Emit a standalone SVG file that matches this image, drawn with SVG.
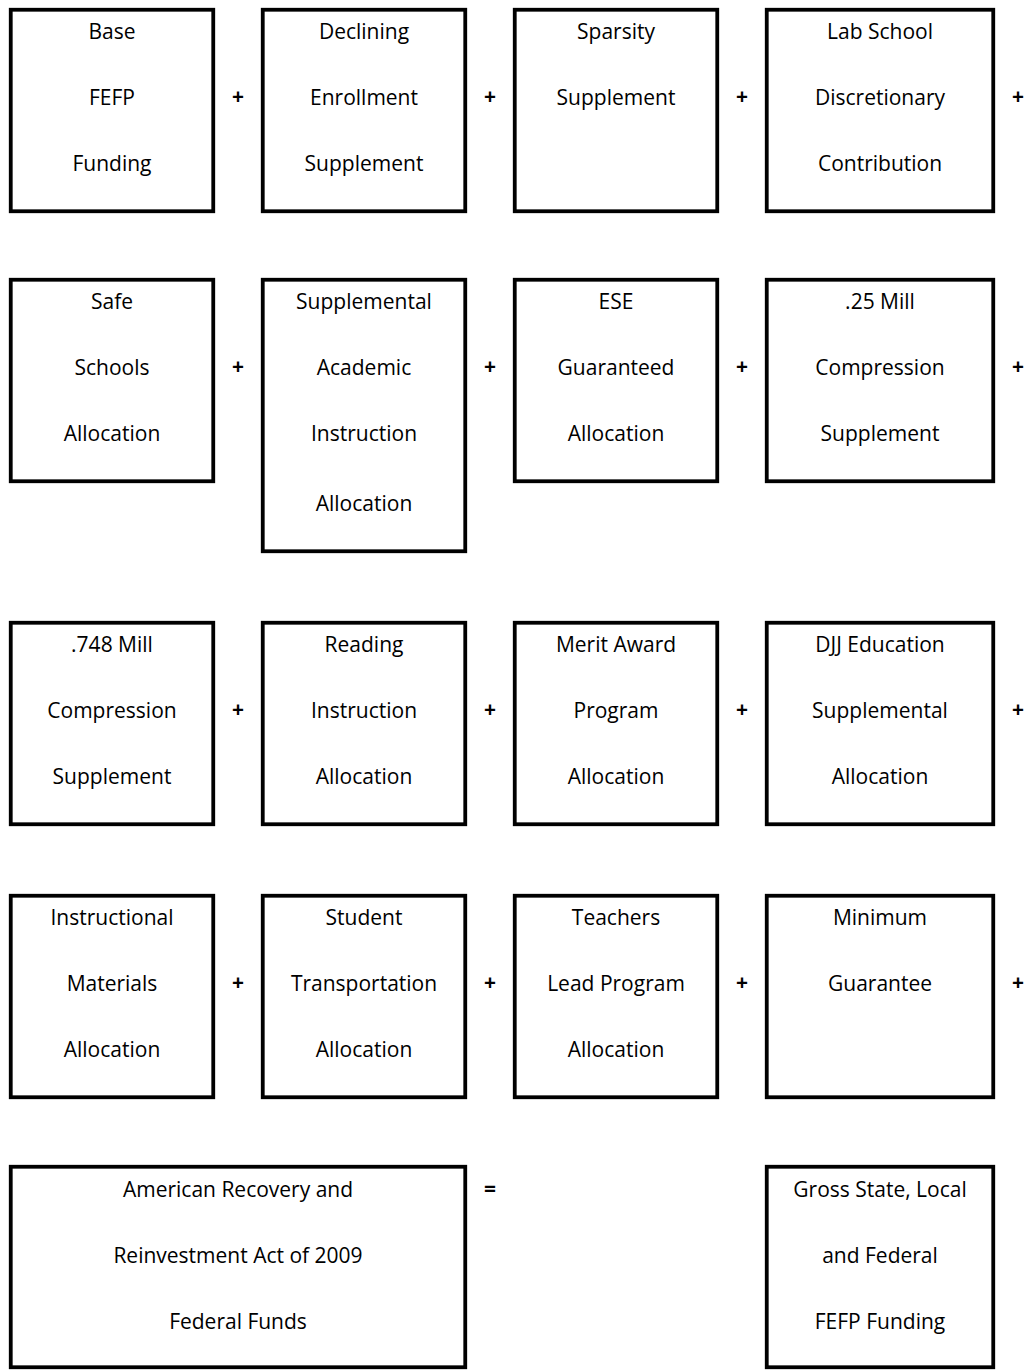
<svg xmlns="http://www.w3.org/2000/svg" width="1029" height="1370" viewBox="0 0 1029 1370">
<style>
.b{fill:#fff;stroke:#000;stroke-width:3.8}
text{font-family:"Open Sans","Liberation Sans",sans-serif;font-size:21px;fill:#000;text-anchor:middle}
.op{font-weight:bold;font-size:21px}
</style>
<rect width="1029" height="1370" fill="#fff"/>
<g id="connectors">
<text class="op" x="238" y="104">+</text><text class="op" x="490" y="104">+</text><text class="op" x="742" y="104">+</text><text class="op" x="1018" y="104">+</text>
<text class="op" x="238" y="374">+</text><text class="op" x="490" y="374">+</text><text class="op" x="742" y="374">+</text><text class="op" x="1018" y="374">+</text>
<text class="op" x="238" y="717">+</text><text class="op" x="490" y="717">+</text><text class="op" x="742" y="717">+</text><text class="op" x="1018" y="717">+</text>
<text class="op" x="238" y="990">+</text><text class="op" x="490" y="990">+</text><text class="op" x="742" y="990">+</text><text class="op" x="1018" y="990">+</text>
<text class="op" x="490" y="1196">=</text>
</g>
<g id="n1"><rect class="b" x="10.75" y="9.75" width="202.5" height="201.5"/><text x="112" y="39">Base</text><text x="112" y="105">FEFP</text><text x="112" y="171">Funding</text></g>
<g id="n2"><rect class="b" x="262.75" y="9.75" width="202.5" height="201.5"/><text x="364" y="39">Declining</text><text x="364" y="105">Enrollment</text><text x="364" y="171">Supplement</text></g>
<g id="n3"><rect class="b" x="514.75" y="9.75" width="202.5" height="201.5"/><text x="616" y="39">Sparsity</text><text x="616" y="105">Supplement</text></g>
<g id="n4"><rect class="b" x="766.75" y="9.75" width="226.5" height="201.5"/><text x="880" y="39">Lab School</text><text x="880" y="105">Discretionary</text><text x="880" y="171">Contribution</text></g>

<g id="n5"><rect class="b" x="10.75" y="279.75" width="202.5" height="201.5"/><text x="112" y="309">Safe</text><text x="112" y="375">Schools</text><text x="112" y="441">Allocation</text></g>
<g id="n6"><rect class="b" x="262.75" y="279.75" width="202.5" height="271.5"/><text x="364" y="309">Supplemental</text><text x="364" y="375">Academic</text><text x="364" y="441">Instruction</text><text x="364" y="511">Allocation</text></g>
<g id="n7"><rect class="b" x="514.75" y="279.75" width="202.5" height="201.5"/><text x="616" y="309">ESE</text><text x="616" y="375">Guaranteed</text><text x="616" y="441">Allocation</text></g>
<g id="n8"><rect class="b" x="766.75" y="279.75" width="226.5" height="201.5"/><text x="880" y="309">.25 Mill</text><text x="880" y="375">Compression</text><text x="880" y="441">Supplement</text></g>

<g id="n9"><rect class="b" x="10.75" y="622.75" width="202.5" height="201.5"/><text x="112" y="652">.748 Mill</text><text x="112" y="718">Compression</text><text x="112" y="784">Supplement</text></g>
<g id="n10"><rect class="b" x="262.75" y="622.75" width="202.5" height="201.5"/><text x="364" y="652">Reading</text><text x="364" y="718">Instruction</text><text x="364" y="784">Allocation</text></g>
<g id="n11"><rect class="b" x="514.75" y="622.75" width="202.5" height="201.5"/><text x="616" y="652">Merit Award</text><text x="616" y="718">Program</text><text x="616" y="784">Allocation</text></g>
<g id="n12"><rect class="b" x="766.75" y="622.75" width="226.5" height="201.5"/><text x="880" y="652">DJJ Education</text><text x="880" y="718">Supplemental</text><text x="880" y="784">Allocation</text></g>

<g id="n13"><rect class="b" x="10.75" y="895.75" width="202.5" height="201.5"/><text x="112" y="925">Instructional</text><text x="112" y="991">Materials</text><text x="112" y="1057">Allocation</text></g>
<g id="n14"><rect class="b" x="262.75" y="895.75" width="202.5" height="201.5"/><text x="364" y="925">Student</text><text x="364" y="991">Transportation</text><text x="364" y="1057">Allocation</text></g>
<g id="n15"><rect class="b" x="514.75" y="895.75" width="202.5" height="201.5"/><text x="616" y="925">Teachers</text><text x="616" y="991">Lead Program</text><text x="616" y="1057">Allocation</text></g>
<g id="n16"><rect class="b" x="766.75" y="895.75" width="226.5" height="201.5"/><text x="880" y="925">Minimum</text><text x="880" y="991">Guarantee</text></g>

<g id="n17"><rect class="b" x="10.75" y="1166.75" width="454.5" height="200.5"/><text x="238" y="1197">American Recovery and</text><text x="238" y="1263">Reinvestment Act of 2009</text><text x="238" y="1329">Federal Funds</text></g>
<g id="n18"><rect class="b" x="766.75" y="1166.75" width="226.5" height="200.5"/><text x="880" y="1197">Gross State, Local</text><text x="880" y="1263">and Federal</text><text x="880" y="1329">FEFP Funding</text></g>
</svg>
